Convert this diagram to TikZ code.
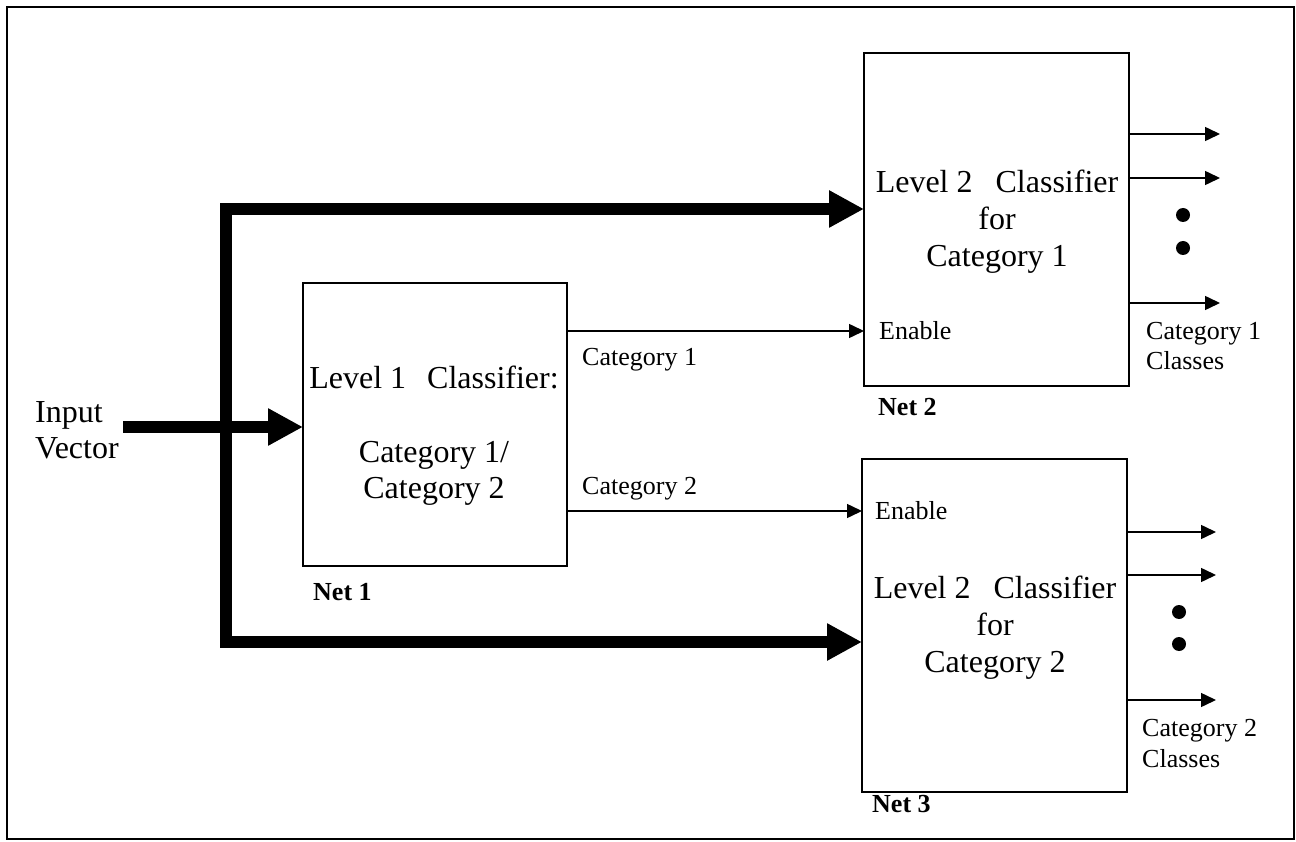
\documentclass[tikz,border=0pt]{standalone}
\usepackage{fontspec}
\setmainfont{Liberation Serif}
\usetikzlibrary{arrows.meta}

\begin{document}
\begin{tikzpicture}[x=1pt, y=-1pt,
  box/.style={draw, line width=2pt, inner sep=0pt, outer sep=0pt},
  bus/.style={line width=12pt},
  busarrow/.style={bus, -{Triangle[length=35pt, width=35pt]}},
  busarrows/.style={bus, {Triangle[length=35pt, width=35pt]}-{Triangle[length=35pt, width=35pt]}},
  wire/.style={line width=1.5pt, -{Triangle[length=15pt, width=14pt]}},
  dot/.style={circle, fill, inner sep=0pt, minimum size=14pt},
  big/.style={inner sep=0pt, anchor=base, font=\fontsize{32}{37}\selectfont},
  bigl/.style={big, anchor=base west},
  small/.style={inner sep=0pt, anchor=base west, font=\fontsize{26}{30}\selectfont},
  netlabel/.style={small, font=\fontsize{26}{30}\selectfont\bfseries}]

% page and outer frame
\useasboundingbox (0,0) rectangle (1296,842);
\draw[line width=2pt] (7,7) rectangle (1294,839);

% classifier boxes
\node[box, minimum width=264pt, minimum height=283pt] (net1) at (435,424.5) {};
\node[box, minimum width=265pt, minimum height=333pt] (net2) at (996.5,219.5) {};
\node[box, minimum width=265pt, minimum height=333pt] (net3) at (994.5,625.5) {};

% box texts
\node[big] (t1a) at (434,388) {Level 1\hspace{21pt}Classifier:};
\node[big] (t1b) at (434,462) {Category 1/};
\node[big] (t1c) at (434,498) {Category 2};

\node[big] (t2a) at (997,193) {Level 2\hspace{23pt}Classifier};
\node[big] (t2b) at (997,230) {for};
\node[big] (t2c) at (997,267) {Category 1};

\node[big] (t3a) at (995,598) {Level 2\hspace{23pt}Classifier};
\node[big] (t3b) at (995,635) {for};
\node[big] (t3c) at (995,672) {Category 2};

\node[netlabel] (n1) at (313,600) {Net 1};
\node[netlabel] (n2) at (878,415) {Net 2};
\node[netlabel] (n3) at (872,812) {Net 3};

% input
\node[bigl] (in1) at (35,422) {Input};
\node[bigl] (in2) at (35,458) {Vector};
\coordinate (inp) at (123,427);
\draw[busarrow] (inp) -- (inp -| net1.west);

% input bus to the level 2 classifiers
\coordinate (tl) at (226,209);
\coordinate (bl) at (226,642);
\draw[busarrows] (bl -| net3.west) -- (bl) -- (tl) -- (tl -| net2.west);

% enable lines
\coordinate (e1) at (0,331);
\coordinate (e2) at (0,511);
\draw[wire] (e1 -| net1.east) -- (e1 -| net2.west);
\draw[wire] (e2 -| net1.east) -- (e2 -| net3.west);
\node[small] (c1) at (582,366) {Category 1};
\node[small] (c2) at (582,494) {Category 2};
\node[small] (en2) at (879,339) {Enable};
\node[small] (en3) at (875,519) {Enable};

% outputs of net 2
\coordinate (o1) at (1220,134);
\coordinate (o2) at (1220,178);
\coordinate (o3) at (1220,303);
\draw[wire] (o1 -| net2.east) -- (o1);
\draw[wire] (o2 -| net2.east) -- (o2);
\draw[wire] (o3 -| net2.east) -- (o3);
\node[dot] (d1) at (1183,215) {};
\node[dot] (d2) at (1183,248) {};
\node[small] (k1a) at (1146,339) {Category 1};
\node[small] (k1b) at (1146,369) {Classes};

% outputs of net 3
\coordinate (o4) at (1216,532);
\coordinate (o5) at (1216,575);
\coordinate (o6) at (1216,700);
\draw[wire] (o4 -| net3.east) -- (o4);
\draw[wire] (o5 -| net3.east) -- (o5);
\draw[wire] (o6 -| net3.east) -- (o6);
\node[dot] (d3) at (1179,612) {};
\node[dot] (d4) at (1179,644) {};
\node[small] (k2a) at (1142,736) {Category 2};
\node[small] (k2b) at (1142,767) {Classes};
\end{tikzpicture}
\end{document}
